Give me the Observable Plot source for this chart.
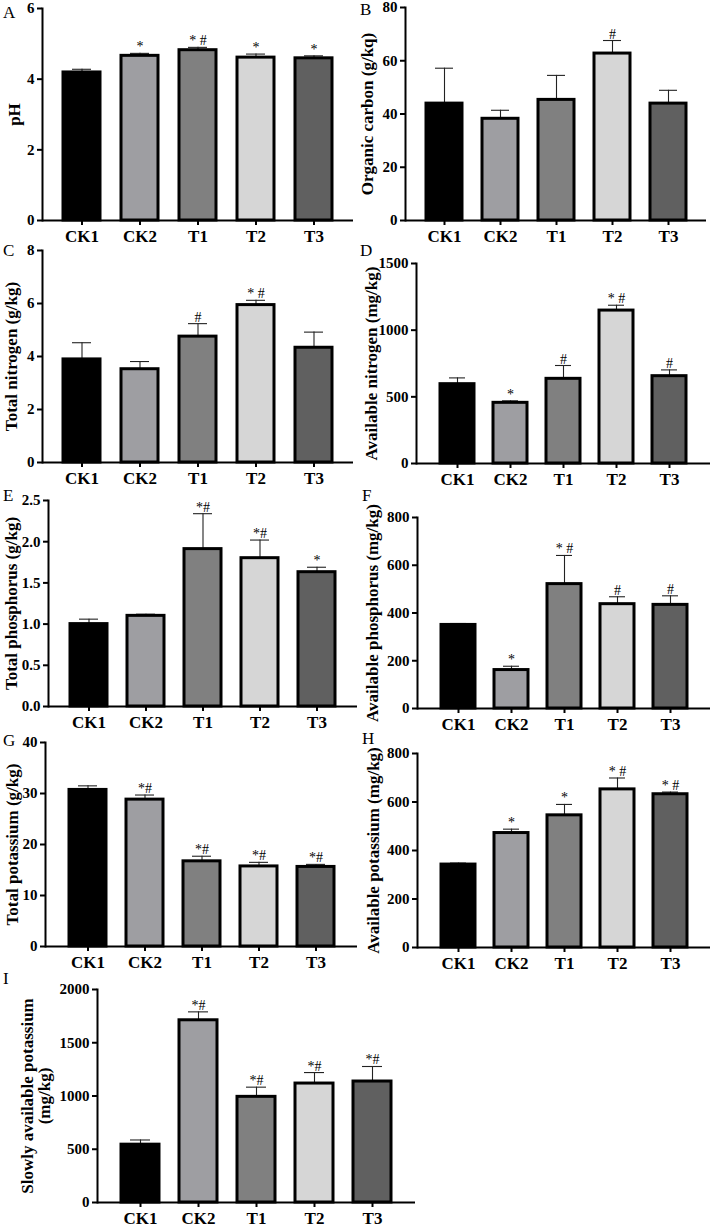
<!DOCTYPE html>
<html><head><meta charset="utf-8">
<script src="https://cdn.jsdelivr.net/npm/d3@7"></script>
<script src="https://cdn.jsdelivr.net/npm/@observablehq/plot@0.6"></script>
<style>
body{margin:0;background:#fff}
#fig{position:relative;width:716px;height:1228px;overflow:hidden;background:#fff;font-family:"Liberation Serif","Times New Roman",serif}
.panel{position:absolute}
.letter{position:absolute;font-size:17px;line-height:1;color:#000}
#fig g[aria-label^="x-axis"] text, #fig g[aria-label^="y-axis"] text{font-weight:bold}
#fig g[aria-label="y-axis label"] text{font-size:17px}
</style></head><body><div id="fig"></div>
<script>
// ---------- data ----------
const categories = ["CK1", "CK2", "T1", "T2", "T3"];
const barColors = ["#000000", "#9e9ea2", "#808080", "#d6d6d6", "#606060"];

const pHMean = [4.19, 4.66, 4.82, 4.61, 4.59];
const pHSd = [0.09, 0.07, 0.08, 0.10, 0.07];
const pHSig = ["", "*", "* #", "*", "*"];

const ocMean = [43.9, 38.2, 45.3, 62.7, 43.9];
const ocSd = [13.3, 3.2, 9.2, 4.9, 5.0];
const ocSig = ["", "", "", "#", ""];

const tnMean = [3.89, 3.52, 4.75, 5.94, 4.33];
const tnSd = [0.63, 0.29, 0.49, 0.18, 0.59];
const tnSig = ["", "", "#", "* #", ""];

const anMean = [595, 455, 635, 1147, 655];
const anSd = [47, 15, 100, 40, 47];
const anSig = ["", "*", "#", "* #", "#"];

const tpMean = [1.00, 1.10, 1.91, 1.80, 1.63];
const tpSd = [0.06, 0.02, 0.43, 0.22, 0.06];
const tpSig = ["", "", "*#", "*#", "*"];

const apMean = [350, 161, 521, 437, 434];
const apSd = [6, 16, 120, 31, 38];
const apSig = ["", "*", "* #", "#", "#"];

const tkMean = [30.7, 28.8, 16.7, 15.7, 15.6];
const tkSd = [0.8, 0.9, 1.0, 0.8, 0.5];
const tkSig = ["", "*#", "*#", "*#", "*#"];

const akMean = [342, 472, 545, 652, 632];
const akSd = [6, 16, 45, 47, 9];
const akSig = ["", "*", "*", "* #", "* #"];

const skMean = [543, 1711, 992, 1117, 1136];
const skSd = [44, 79, 91, 103, 141];
const skSig = ["", "*#", "*#", "*#", "*#"];

// ---------- panels ----------
const panels = [
  {letter:"A", title:"pH", mean:pHMean, sd:pHSd, sig:pHSig, yMax:6, ticks:[0,2,4,6],
   box:{left:0, top:0, w:358, h:252, mL:42, mR:5, mT:8, mB:32}, pi:0.365, po:0.35, lo:35, lp:[3,4]},
  {letter:"B", title:"Organic carbon (g/kq)", mean:ocMean, sd:ocSd, sig:ocSig, yMax:80, ticks:[0,20,40,60,80],
   box:{left:358, top:0, w:358, h:252, mL:47, mR:10, mT:7, mB:32}, pi:0.36, po:0.356, lo:45, lp:[360,1]},
  {letter:"C", title:"Total nitrogen (g/kg)", mean:tnMean, sd:tnSd, sig:tnSig, yMax:8, ticks:[0,2,4,6,8],
   box:{left:0, top:240, w:358, h:252, mL:42, mR:5, mT:10, mB:30}, pi:0.365, po:0.35, lo:38, lp:[3,242]},
  {letter:"D", title:"Available nitrogen (mg/kg)", mean:anMean, sd:anSd, sig:anSig, yMax:1500, ticks:[0,500,1000,1500],
   box:{left:358, top:240, w:358, h:252, mL:58, mR:6, mT:23, mB:29}, pi:0.367, po:0.418, lo:52, lp:[360,242]},
  {letter:"E", title:"Total phosphorus (g/kg)", mean:tpMean, sd:tpSd, sig:tpSig, yMax:2.5, ticks:[0,0.5,1,1.5,2,2.5], fmt:".1f",
   box:{left:0, top:480, w:358, h:256, mL:48, mR:1, mT:20, mB:30}, pi:0.358, po:0.36, lo:44, lp:[3,487]},
  {letter:"F", title:"Available phosphorus (mg/kg)", mean:apMean, sd:apSd, sig:apSig, yMax:800, ticks:[0,200,400,600,800],
   box:{left:358, top:480, w:358, h:256, mL:59, mR:6, mT:37, mB:28}, pi:0.367, po:0.418, lo:52, lp:[362,487]},
  {letter:"G", title:"Total potassium (g/kg)", mean:tkMean, sd:tkSd, sig:tkSig, yMax:40, ticks:[0,10,20,30,40],
   box:{left:0, top:720, w:358, h:258, mL:45, mR:1, mT:22, mB:32}, pi:0.357, po:0.39, lo:40, lp:[3,732]},
  {letter:"H", title:"Available potassium (mg/kg)", mean:akMean, sd:akSd, sig:akSig, yMax:800, ticks:[0,200,400,600,800],
   box:{left:358, top:720, w:358, h:258, mL:59, mR:6, mT:33, mB:31}, pi:0.367, po:0.418, lo:51, lp:[362,730]},
  {letter:"I", title:"Slowly available potassium\n(mg/kg)", mean:skMean, sd:skSd, sig:skSig, yMax:2000, ticks:[0,500,1000,1500,2000],
   box:{left:0, top:970, w:420, h:258, mL:97, mR:5, mT:19, mB:26}, pi:0.35, po:0.39, lo:77, lp:[3,970]}
];

const fig = document.getElementById("fig");
const font = '"Liberation Serif","Times New Roman",serif';

for (const p of panels) {
  const data = categories.map((c, i) => ({cat: c, value: p.mean[i], top: p.mean[i] + p.sd[i], sig: p.sig[i]}));
  const b = p.box;
  const chart = Plot.plot({
    width: b.w, height: b.h,
    marginLeft: b.mL, marginRight: b.mR, marginTop: b.mT, marginBottom: b.mB,
    style: {fontFamily: font, background: "transparent", overflow: "visible", color: "#000"},
    x: {domain: categories, paddingInner: p.pi, paddingOuter: p.po},
    y: {domain: [0, p.yMax]},
    color: {domain: categories, range: barColors},
    marks: [
      Plot.ruleX(data, {x: "cat", y1: "value", y2: "top", stroke: "#222", strokeWidth: 1.1}),
      Plot.tickY(data, {x: "cat", y: "top", stroke: "#222", strokeWidth: 1.1, insetLeft: 9, insetRight: 9}),
      Plot.barY(data, {x: "cat", y: "value", fill: "cat", stroke: "#000", strokeWidth: 3}),
      Plot.text(data, {x: "cat", y: "top", text: "sig", dy: -2, lineAnchor: "bottom", fontSize: 14, fill: "black"}),
      Plot.ruleY([0], {strokeWidth: 2}),
      Plot.frame({anchor: "left", strokeWidth: 2}),
      Plot.axisY({ticks: p.ticks, tickSize: 5, tickPadding: 3, strokeWidth: 2, fontSize: 15,
        tickFormat: d3.format(p.fmt || "d"),
        label: p.title, labelAnchor: "center", labelArrow: "none", labelOffset: p.lo}),
      Plot.axisX({tickSize: 5, tickPadding: 4, strokeWidth: 2, fontSize: 17, label: null})
    ]
  });
  chart.classList.add("panel");
  chart.style.left = b.left + "px";
  chart.style.top = b.top + "px";
  chart.style.position = "absolute";
  fig.appendChild(chart);

  const L = document.createElement("div");
  L.className = "letter";
  L.textContent = p.letter;
  L.style.left = p.lp[0] + "px";
  L.style.top = p.lp[1] + "px";
  fig.appendChild(L);
}
</script></body></html>
